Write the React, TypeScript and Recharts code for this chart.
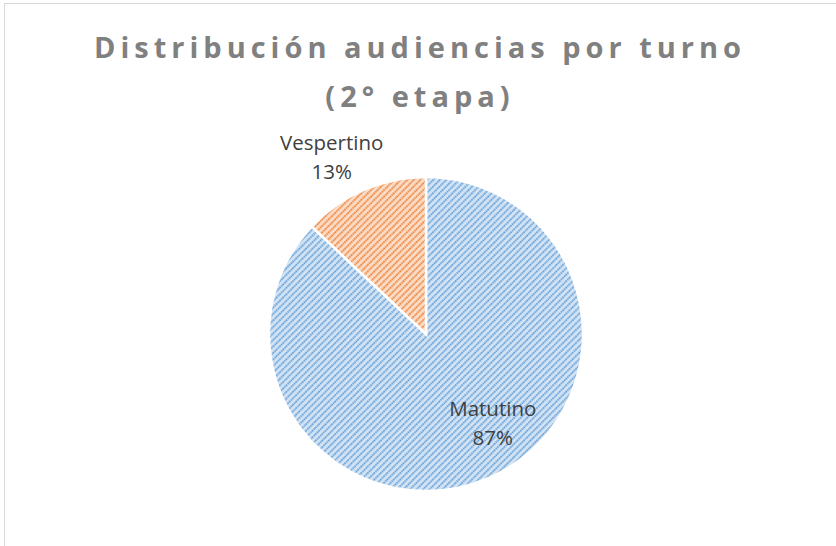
import { PieChart, Pie, Cell } from 'recharts';

const turnos = ['Matutino', 'Vespertino'];
const porcentajes = [87, 13];
const etiquetas = ['87%', '13%'];

const PATTERNS = [
  { id: 'rayas-azul', bg: '#d6e5f5', line: '#5b9bd5' },
  { id: 'rayas-naranja', bg: '#fbdfcb', line: '#ed7d31' },
];

// label placement (Excel "best fit"): distance from centre and angle in degrees
const LABEL_POS = [
  { r: 111, angle: -53 },
  { r: 201, angle: 118 },
];

const data = turnos.map((name, i) => ({ name, value: porcentajes[i], pct: etiquetas[i] }));

const RAD = Math.PI / 180;

const renderLabel = (props: any) => {
  const { cx, cy, index } = props;
  const pos = LABEL_POS[index];
  const x = cx + pos.r * Math.cos(pos.angle * RAD);
  const y = cy - pos.r * Math.sin(pos.angle * RAD);
  return (
    <text
      x={x}
      y={y}
      textAnchor="middle"
      fill="#404040"
      fontSize={20.5}
      fontFamily="'Open Sans', sans-serif"
    >
      <tspan x={x} dy={-7}>{data[index].name}</tspan>
      <tspan x={x} dy={29}>{data[index].pct}</tspan>
    </text>
  );
};

export default function App() {
  return (
    <div style={{ position: 'absolute', left: 0, top: 0, width: 836, height: 546, overflow: 'hidden', background: '#fff' }}>
      <div
        style={{
          position: 'absolute',
          left: 4,
          top: 3,
          width: 900,
          height: 600,
          border: '1px solid #d9d9d9',
        }}
      />
      <div
        style={{
          position: 'absolute',
          top: 22,
          left: 0,
          width: 840,
          textAlign: 'center',
          fontFamily: "'Open Sans', sans-serif",
          fontWeight: 700,
          fontSize: 29,
          letterSpacing: 5,
          lineHeight: '49px',
          color: '#808080',
        }}
      >
        Distribución audiencias por turno
        <br />
        (2° etapa)
      </div>
      <div style={{ position: 'absolute', left: 0, top: 0 }}>
        <PieChart width={836} height={546} margin={{ top: 0, right: 0, bottom: 0, left: 0 }}>
          <defs>
            {PATTERNS.map((p) => (
              <pattern
                key={p.id}
                id={p.id}
                width={4.6}
                height={4.6}
                patternUnits="userSpaceOnUse"
                patternTransform="rotate(45)"
              >
                <rect width={4.6} height={4.6} fill={p.bg} />
                <line x1={1.2} y1={0} x2={1.2} y2={4.6} stroke={p.line} strokeWidth={1.8} strokeDasharray="1.7 0.6" />
              </pattern>
            ))}
          </defs>
          <Pie
            data={data}
            dataKey="value"
            nameKey="name"
            cx={426}
            cy={334}
            outerRadius={157}
            startAngle={90}
            endAngle={-270}
            stroke="#ffffff"
            strokeWidth={2.5}
            label={renderLabel}
            labelLine={false}
            isAnimationActive={false}
          >
            {data.map((entry, index) => (
              <Cell key={`cell-${index}`} fill={`url(#${PATTERNS[index].id})`} />
            ))}
          </Pie>
        </PieChart>
      </div>
    </div>
  );
}
